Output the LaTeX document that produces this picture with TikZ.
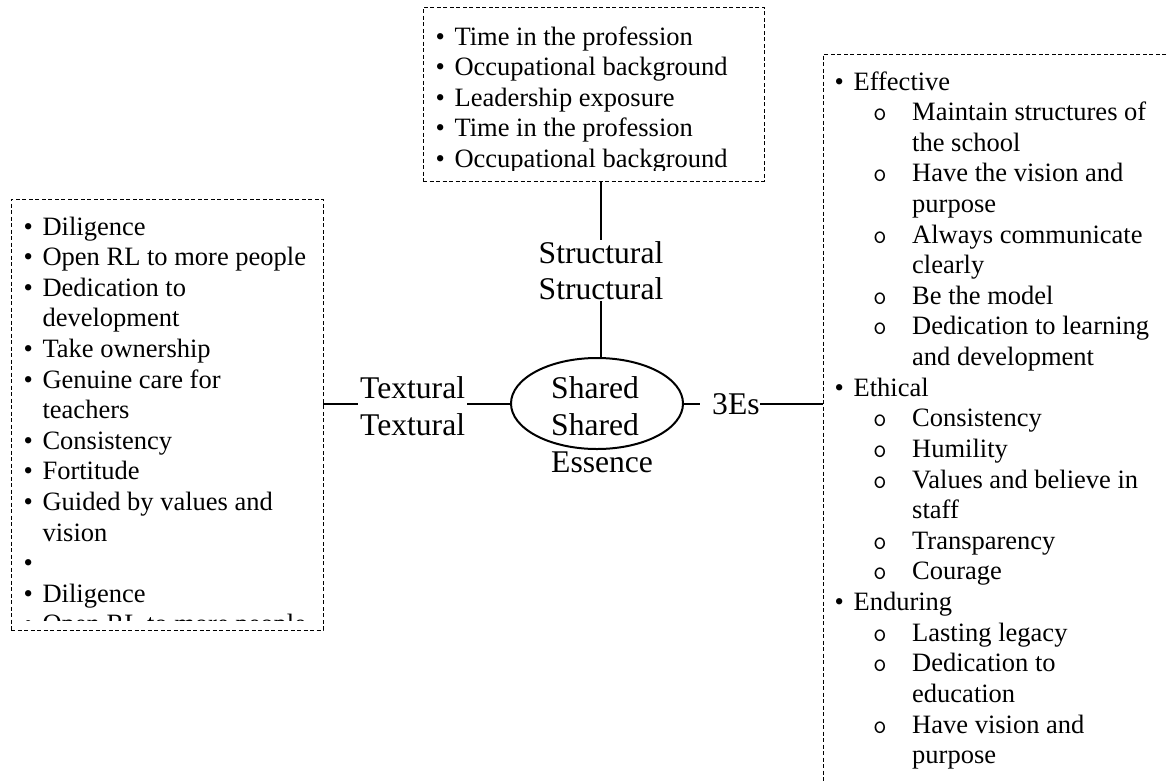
\documentclass[tikz,border=0pt]{standalone}
\usepackage{fontspec}
\setmainfont{Liberation Serif}
\usetikzlibrary{shapes.geometric}

% list markers: top-level bullet, its continuation, sub-level "o" and its continuation
\newcommand\bulitem{\makebox[19pt][l]{\textbullet}}
\newcommand\bulcont{\hspace*{19pt}}
\newcommand\subbul{\hspace*{38.6pt}\makebox[39pt][l]{\ttfamily o}}
\newcommand\subcont{\hspace*{77.6pt}}

\tikzset{
  dbox/.style={draw, dash pattern=on 4pt off 2.5pt, line width=0.9pt,
               inner sep=0pt, outer sep=0pt},
  link/.style={line width=2pt},
  lab/.style={font=\fontsize{31.6}{36.6}\selectfont, inner sep=0pt},
  itm/.style={font=\fontsize{26.5}{30.6}\selectfont, anchor=base west, inner sep=0pt},
}

\begin{document}
\begin{tikzpicture}[x=1pt, y=-1pt]
  \path[use as bounding box, fill=white] (0,0) rectangle (1169,780);
  \clip (0,0) rectangle (1169,780);

  % dashed text boxes
  \node[dbox, minimum width=341pt, minimum height=174pt] (tbox) at (593.5,94) {};
  \node[dbox, minimum width=312pt, minimum height=431pt] (lbox) at (167,414.5) {};
  \node[dbox, minimum width=377pt, minimum height=746pt] (rbox) at (1011.5,427) {};

  % structural items
  \begin{scope}
    \clip (423,7) rectangle (764,170);
    \foreach \t [count=\i from 0] in {
      \bulitem Time in the profession,
      \bulitem Occupational background,
      \bulitem Leadership exposure,
      \bulitem Time in the profession,
      \bulitem Occupational background}
      \node[itm] (top\i) at (435.4,{45+30.6*\i}) {\t};
  \end{scope}

  % textural items
  \begin{scope}
    \clip (11,199) rectangle (323,620.5);
    \foreach \t [count=\i from 0] in {
      \bulitem Diligence,
      \bulitem Open RL to more people,
      \bulitem Dedication to,
      \bulcont development,
      \bulitem Take ownership,
      \bulitem Genuine care for,
      \bulcont teachers,
      \bulitem Consistency,
      \bulitem Fortitude,
      \bulitem Guided by values and,
      \bulcont vision,
      \bulitem,
      \bulitem Diligence,
      \bulitem Open RL to more people}
      \node[itm] (lft\i) at (23.4,{235+30.6*\i}) {\t};
  \end{scope}

  % the 3Es items
  \foreach \t [count=\i from 0] in {
    \bulitem Effective,
    \subbul Maintain structures of,
    \subcont the school,
    \subbul Have the vision and,
    \subcont purpose,
    \subbul Always communicate,
    \subcont clearly,
    \subbul Be the model,
    \subbul Dedication to learning,
    \subcont and development,
    \bulitem Ethical,
    \subbul Consistency,
    \subbul Humility,
    \subbul Values and believe in,
    \subcont staff,
    \subbul Transparency,
    \subbul Courage,
    \bulitem Enduring,
    \subbul Lasting legacy,
    \subbul Dedication to,
    \subcont education,
    \subbul Have vision and,
    \subcont purpose}
    \node[itm] (rgt\i) at (834.4,{90+30.62*\i}) {\t};

  % central essence and branch labels
  \node[draw, ellipse, line width=2pt, minimum width=172pt, minimum height=91pt,
        inner sep=0pt] (ell) at (597,403.5) {};
  \node[lab, anchor=north west, align=left] (ess) at (551,376.7)
       {Shared\\Shared\\Essence};
  \node[lab, anchor=north, align=center, inner ysep=1pt] (str) at (601,240)
       {Structural\\Structural};
  \node[lab, anchor=north west, align=left, inner xsep=2pt] (txl) at (358,376.7)
       {Textural\\Textural};
  \node[lab, anchor=base west] (e3) at (712,414.3) {3Es};
  \coordinate (e3in) at ([xshift=-12pt]e3.west);

  % connectors
  \draw[link] (tbox.south -| str.north) -- (str.north);
  \draw[link] (str.south) -- (str.south |- ell.north);
  \draw[link] (lbox.east |- ell.west) -- (txl.west |- ell.west);
  \draw[link] (txl.east |- ell.west) -- (ell.west);
  \draw[link] (ell.east) -- (e3in |- ell.east);
  \draw[link] (e3.east |- ell.east) -- (rbox.west |- ell.east);
\end{tikzpicture}
\end{document}
